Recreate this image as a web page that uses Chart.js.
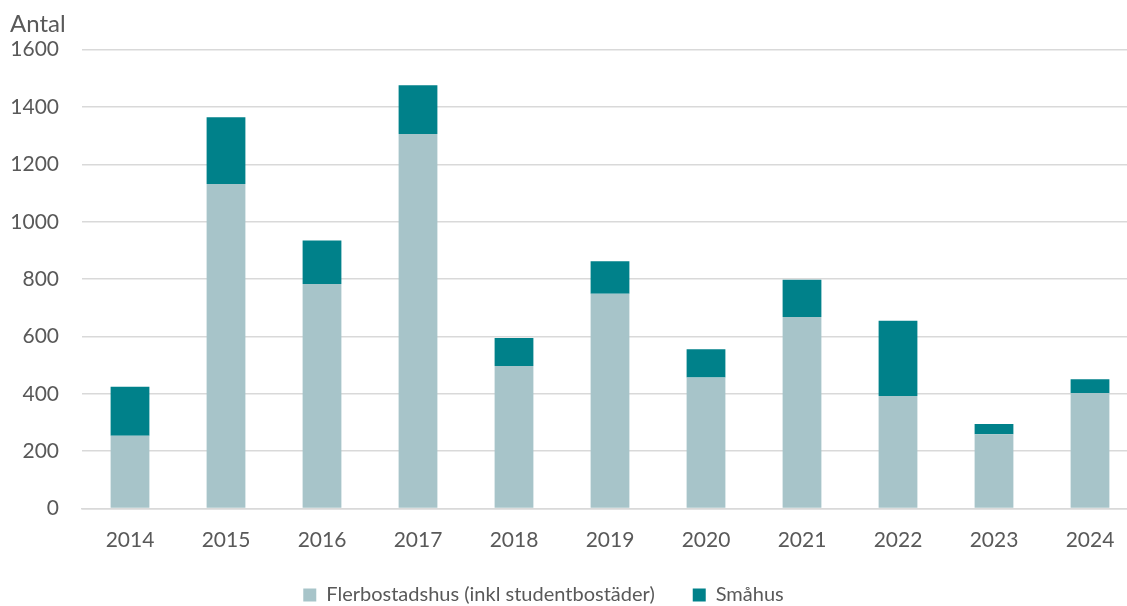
<!DOCTYPE html>
<html>
<head>
<meta charset="utf-8">
<script src="https://cdn.jsdelivr.net/npm/chart.js@4.4.1/dist/chart.umd.min.js"></script>
<style>
  html, body { margin: 0; padding: 0; background: #fff; overflow: hidden; width: 1127px; height: 606px; }
  canvas { display: block; }
</style>
</head>
<body>
<canvas id="c" width="1140" height="606"></canvas>
<script>
const categories = ['2014','2015','2016','2017','2018','2019','2020','2021','2022','2023','2024'];
const flerbostadshus = [254, 1132, 783, 1306, 497, 749, 457, 668, 392, 259, 403];
const smahus = [171, 232, 152, 170, 98, 113, 98, 130, 263, 36, 48];
const seriesNames = ['Flerbostadshus (inkl studentbostäder)', 'Småhus'];
const yTicks = [0, 200, 400, 600, 800, 1000, 1200, 1400, 1600];
const axisTitle = 'Antal';

const textColor = '#595959';
const fontFamily = 'Lato, "Open Sans", sans-serif';

const legendShift = {
  id: 'legendShift',
  afterLayout(chart) {
    const lg = chart.legend;
    if (lg) {
      lg.right -= 61;
      lg.top -= 24.7;
      lg.bottom = chart.height;
    }
  }
};

new Chart(document.getElementById('c'), {
  type: 'bar',
  data: {
    labels: categories,
    datasets: [
      { label: seriesNames[0], data: flerbostadshus, backgroundColor: '#A7C4C9', borderWidth: 0 },
      { label: seriesNames[1], data: smahus, backgroundColor: '#00818A', borderWidth: 0 }
    ]
  },
  options: {
    responsive: false,
    animation: false,
    devicePixelRatio: 1,
    layout: { padding: { left: 10, right: 2, top: 0, bottom: 0 } },
    datasets: { bar: { categoryPercentage: 1.0, barPercentage: 0.404 } },
    scales: {
      x: {
        stacked: true,
        grid: { display: false, drawTicks: false },
        border: { display: true, color: '#D9D9D9', width: 1.5 },
        ticks: { color: textColor, font: { family: fontFamily, size: 21 }, padding: 19, maxRotation: 0 }
      },
      y: {
        stacked: true,
        min: 0, max: 1600,
        afterBuildTicks(scale) { scale.ticks = yTicks.map(v => ({ value: v })); },
        afterFit(scale) { scale.width = 72; },
        grid: { color: '#D9D9D9', lineWidth: 1.5, drawTicks: false },
        border: { display: false },
        ticks: {
          color: textColor, font: { family: fontFamily, size: 21 }, padding: 23,
          callback: (v) => String(v)
        }
      }
    },
    plugins: {
      title: {
        display: true, text: axisTitle, align: 'start', color: textColor,
        font: { family: fontFamily, size: 24, weight: 'normal' },
        padding: { top: 10, bottom: 10.9 }
      },
      legend: {
        position: 'bottom',
        maxHeight: 34.3,
        labels: { color: textColor, font: { family: fontFamily, size: 20 }, boxWidth: 13, boxHeight: 13, padding: 38 }
      },
      tooltip: { enabled: false }
    }
  },
  plugins: [legendShift]
});
</script>
</body>
</html>
